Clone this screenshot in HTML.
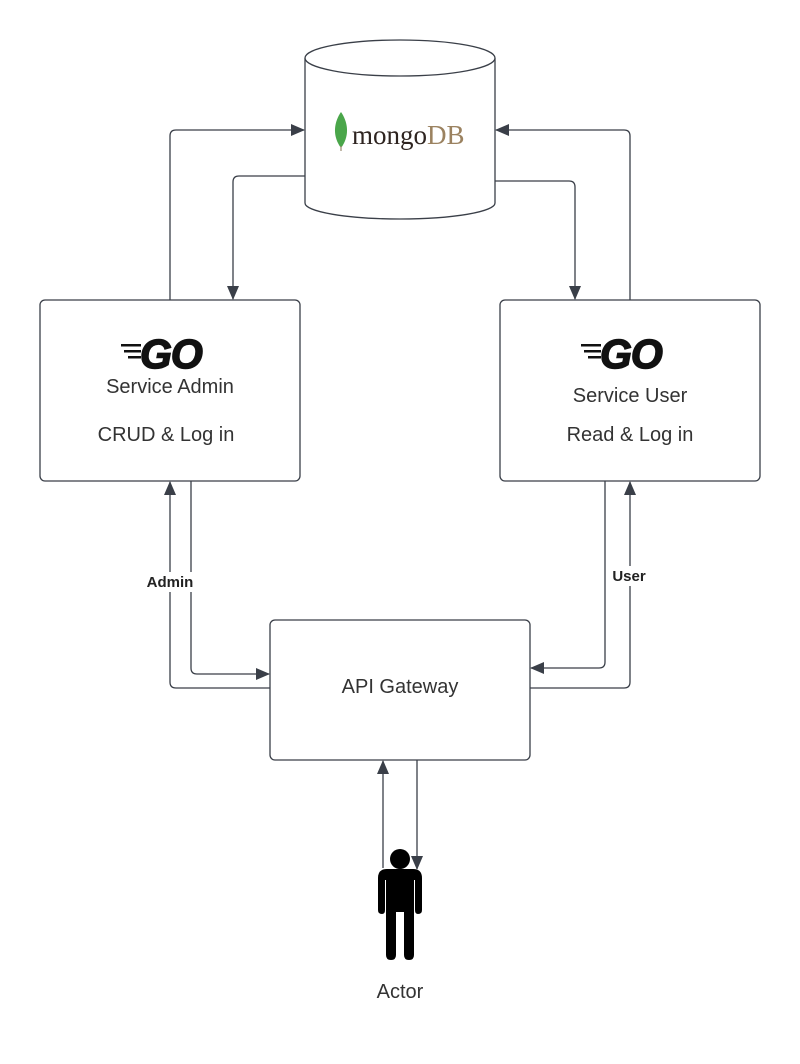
<!DOCTYPE html>
<html><head><meta charset="utf-8"><style>
html,body{margin:0;padding:0;background:#fff;}
svg{display:block;font-family:"Liberation Sans",sans-serif;}
</style></head><body>
<svg width="800" height="1064" viewBox="0 0 800 1064" xmlns="http://www.w3.org/2000/svg">
<defs>
<marker id="a" markerWidth="14" markerHeight="12" refX="13" refY="6" orient="auto" markerUnits="userSpaceOnUse">
<path d="M0,0 L14,6 L0,12 Z" fill="#3a3f48"/></marker>
</defs>
<g fill="none" stroke="#3a3f48" stroke-width="1.3">
<path d="M305,58 L305,203 A95,16 0 0 0 495,203 L495,58" fill="#fff"/>
<ellipse cx="400" cy="58" rx="95" ry="18" fill="#fff"/>
<rect x="40" y="300" width="260" height="181" rx="5" fill="#fff"/>
<rect x="500" y="300" width="260" height="181" rx="5" fill="#fff"/>
<rect x="270" y="620" width="260" height="140" rx="5" fill="#fff"/>
<path d="M170,300 L170,136 Q170,130 176,130 L304,130" marker-end="url(#a)"/>
<path d="M305,176 L239,176 Q233,176 233,182 L233,299" marker-end="url(#a)"/>
<path d="M630,300 L630,136 Q630,130 624,130 L496,130" marker-end="url(#a)"/>
<path d="M495,181 L569,181 Q575,181 575,187 L575,299" marker-end="url(#a)"/>
<path d="M270,688 L176,688 Q170,688 170,682 L170,482" marker-end="url(#a)"/>
<path d="M191,481 L191,668 Q191,674 197,674 L269,674" marker-end="url(#a)"/>
<path d="M605,481 L605,662 Q605,668 599,668 L531,668" marker-end="url(#a)"/>
<path d="M530,688 L624,688 Q630,688 630,682 L630,482" marker-end="url(#a)"/>
<path d="M383,868 L383,761" marker-end="url(#a)"/>
<path d="M417,760 L417,869" marker-end="url(#a)"/>
</g>
<rect x="140" y="572" width="60" height="20" fill="#fff"/>
<rect x="606" y="566" width="46" height="20" fill="#fff"/>
<text x="170" y="587" font-size="15" font-weight="bold" fill="#222" text-anchor="middle">Admin</text>
<text x="629" y="581" font-size="15" font-weight="bold" fill="#222" text-anchor="middle">User</text>
<path d="M341,112 C334,122 332,136 341,148 C350,136 348,122 341,112 Z" fill="#4aa64a"/>
<line x1="341" y1="146" x2="341" y2="151" stroke="#9a8a70" stroke-width="1.2"/>
<text x="352" y="144" font-family="Liberation Serif,serif" font-size="27" fill="#2e2420">mongo<tspan fill="#9b8260">DB</tspan></text>
<g fill="#111">
<rect x="121" y="344" width="20" height="2.5"/><rect x="124" y="350" width="17" height="2.5"/><rect x="128" y="356" width="13" height="2.5"/>
<rect x="581" y="344" width="20" height="2.5"/><rect x="584" y="350" width="17" height="2.5"/><rect x="588" y="356" width="13" height="2.5"/>
</g>
<text x="140" y="368" font-size="41" font-weight="bold" font-style="italic" fill="#111" stroke="#111" stroke-width="1.5" letter-spacing="-1">GO</text>
<text x="600" y="368" font-size="41" font-weight="bold" font-style="italic" fill="#111" stroke="#111" stroke-width="1.5" letter-spacing="-1">GO</text>
<g font-size="20" fill="#333" text-anchor="middle">
<text x="170" y="393">Service Admin</text>
<text x="166" y="441">CRUD &amp; Log in</text>
<text x="630" y="402">Service User</text>
<text x="630" y="441">Read &amp; Log in</text>
<text x="400" y="693">API Gateway</text>
<text x="400" y="998">Actor</text>
</g>
<g fill="#000">
<circle cx="400" cy="859" r="10"/>
<path d="M387,869 L413,869 Q422,869 422,878 L422,910 Q422,914 418,914 Q415,914 415,910 L415,880 L414,880 L414,955 Q414,960 409,960 Q404,960 404,955 L404,912 L396,912 L396,955 Q396,960 391,960 Q386,960 386,955 L386,880 L385,880 L385,910 Q385,914 382,914 Q378,914 378,910 L378,878 Q378,869 387,869 Z"/>
</g>
</svg>
</body></html>
